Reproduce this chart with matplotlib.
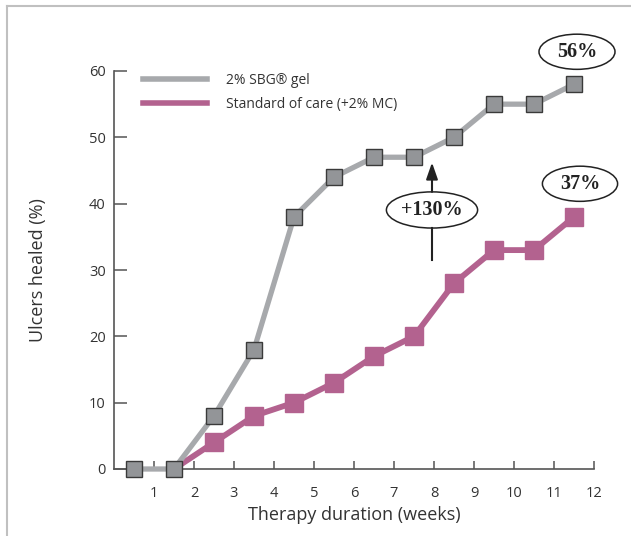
import matplotlib.pyplot as plt
from matplotlib.lines import Line2D
from matplotlib.patches import Ellipse

plt.rcParams['font.family'] = ['Open Sans', 'DejaVu Sans']

# weeks (points sit at mid-week)
weeks = [0.5, 1.5, 2.5, 3.5, 4.5, 5.5, 6.5, 7.5, 8.5, 9.5, 10.5, 11.5]
sbg_gel = [0, 0, 8, 18, 38, 44, 47, 47, 50, 55, 55, 58]
care_weeks = [1.5, 2.5, 3.5, 4.5, 5.5, 6.5, 7.5, 8.5, 9.5, 10.5, 11.5]
standard_care = [0, 4, 8, 10, 13, 17, 20, 28, 33, 33, 38]

x_ticks = list(range(1, 13))
y_ticks = [0, 10, 20, 30, 40, 50, 60]

gray_line = '#a7a9ac'
gray_face = '#939598'
pink = '#b3628f'
txt = '#333333'

fig = plt.figure(figsize=(6.31, 5.36), dpi=100)
ax = fig.add_axes([114 / 631, 1 - 469 / 536, 480 / 631, 398 / 536])

# thin grey frame around the figure (cut off at right/bottom)
fig.add_artist(Line2D([7 / 631, 7 / 631], [0, 1 - 6 / 536], color='#c0c0c0', lw=1.5))
fig.add_artist(Line2D([7 / 631, 1], [1 - 6 / 536, 1 - 6 / 536], color='#c0c0c0', lw=1.5))

# first point is hidden under the grey marker, so no marker for it
ax.plot(care_weeks, standard_care, color=pink, lw=4.2, marker='s', ms=13,
        mfc=pink, mec=pink, markevery=slice(1, None), clip_on=False, zorder=3)
ax.plot(weeks, sbg_gel, color=gray_line, lw=3.8, marker='s', ms=12,
        mfc=gray_face, mec='#3a3a3a', mew=1.0, clip_on=False, zorder=4)

ax.set_xlim(0, 12)
ax.set_ylim(0, 60)
ax.set_xticks(x_ticks)
ax.set_yticks(y_ticks)
for s in ['top', 'right']:
    ax.spines[s].set_visible(False)
for s in ['left', 'bottom']:
    ax.spines[s].set_color('#555555')
    ax.spines[s].set_linewidth(1.2)
ax.tick_params(axis='x', direction='in', length=6, width=1.1, color='#555555',
               pad=12, labelsize=10.5, labelcolor=txt)
ax.tick_params(axis='y', direction='in', length=9, width=1.1, color='#555555',
               pad=6, labelsize=10.5, labelcolor=txt)

ax.set_xlabel('Therapy duration (weeks)', fontsize=13, color=txt, labelpad=4)
ax.set_ylabel('Ulcers healed (%)', fontsize=13, color=txt, labelpad=30)

handles = [Line2D([], [], color=gray_line, lw=4),
           Line2D([], [], color=pink, lw=4)]
ax.legend(handles, ['2% SBG\u00ae gel', 'Standard of care (+2% MC)'],
          loc='upper left', bbox_to_anchor=(0.06, 0.995), frameon=False,
          borderpad=0, borderaxespad=0, handlelength=4.6, handletextpad=1.4,
          labelspacing=0.65, fontsize=10, labelcolor=txt)

# callouts
serif = dict(family='Liberation Serif', weight='bold', fontsize=14.5, color='#222222')
callouts = [(11.575, 62.9, 1.9, 5.3, '56%'),
            (11.65, 43.0, 1.88, 5.3, '37%'),
            (7.95, 39.05, 2.28, 5.45, '+130%')]
for cx, cy, w, h, label in callouts:
    ax.add_patch(Ellipse((cx, cy), w, h, facecolor='white', edgecolor='#222222',
                         lw=1.1, clip_on=False, zorder=5))
    ax.text(cx, cy, label, ha='center', va='center', zorder=6, **serif)

# arrow through the +130% ellipse
ax.plot([7.95, 7.95], [31.5, 39.05 - 5.45 / 2], color='#222222', lw=1.5, zorder=5)
ax.annotate('', xy=(7.95, 46.2), xytext=(7.95, 39.05 + 5.45 / 2),
            arrowprops=dict(arrowstyle='-|>,head_width=0.35,head_length=1.0',
                            color='#222222', lw=1.5, shrinkA=0, shrinkB=0), zorder=5)

fig.savefig('out.png', dpi=100)
